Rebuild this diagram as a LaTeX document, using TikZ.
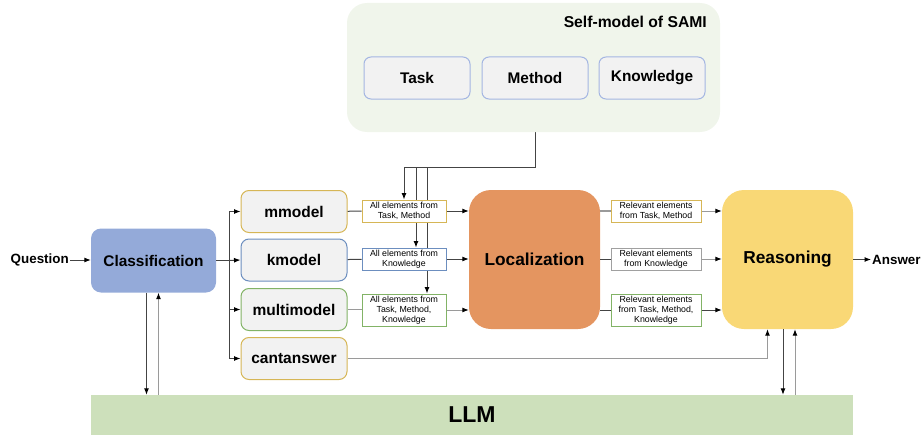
\documentclass[tikz,border=0pt]{standalone}
\usepackage{fontspec}
\setmainfont{Liberation Sans}
\usetikzlibrary{arrows.meta}
\usetikzlibrary{positioning}
\usetikzlibrary{backgrounds}

\definecolor{gold}{HTML}{D6B656}
\definecolor{blueline}{HTML}{6C8EBF}
\definecolor{greenline}{HTML}{82B366}
\definecolor{greyline}{HTML}{A0A0A0}
\definecolor{boxgray}{HTML}{F2F2F2}
\definecolor{partline}{HTML}{A4B6E2}
\definecolor{selffill}{HTML}{F0F5EB}
\definecolor{clsfill}{HTML}{94AAD9}
\definecolor{locfill}{HTML}{E49560}
\definecolor{reasfill}{HTML}{F9D876}
\definecolor{llmfill}{HTML}{CDE0BB}
\definecolor{wirecol}{HTML}{444444}
\definecolor{softcol}{HTML}{9A9A9A}

\begin{document}
\begin{tikzpicture}[
    x=1pt, y=-1pt,
    >={Latex[length=6.5pt,width=5pt,color=black]},
    model/.style={
        rounded corners=8pt, draw=#1, fill=boxgray, line width=1pt,
        minimum width=106pt, minimum height=42pt, inner sep=0pt,
        font=\bfseries\fontsize{15.5}{18}\selectfont
    },
    part/.style={
        rounded corners=7pt, draw=partline, fill=boxgray, line width=1pt,
        minimum width=106pt, minimum height=42pt, inner sep=0pt,
        font=\bfseries\fontsize{15.4}{18}\selectfont
    },
    items/.style={
        draw=#1, fill=white, line width=1pt,
        minimum width=84pt, minimum height=22pt, inner sep=0pt,
        align=center, font=\fontsize{8.8}{10}\selectfont
    },
    stage/.style={
        rounded corners=22pt, fill=#1,
        minimum width=131pt, minimum height=139pt, inner sep=0pt,
        font=\bfseries\fontsize{17.3}{20}\selectfont
    },
    label/.style={inner sep=1pt, font=\bfseries\fontsize{13.4}{16}\selectfont},
    wire/.style={draw=wirecol, line width=1pt},
    soft/.style={draw=softcol, line width=1.2pt},
    link/.style={->, line width=1pt}
]
\useasboundingbox (0,0) rectangle (923,436);

% self-model
\node[rounded corners=20pt, fill=selffill, minimum width=373pt, minimum height=129pt] (self) at (533.5,67.5) {};
\node[anchor=east, inner sep=0pt, font=\bfseries\fontsize{15.7}{18}\selectfont] (title) at (707,22) {Self-model of SAMI};
\node[part] (task) at (417,78) {Task};
\node[part] (method) at (535,78) {Method};
\node[part] (know) at (652,78) {Knowledge};

% input side
\node[rounded corners=10pt, fill=clsfill, minimum width=125pt, minimum height=64pt,
      font=\bfseries\fontsize{15.4}{18}\selectfont] (cls) at (153.5,260.5) {Classification};
\node[label, anchor=east] (question) at (70,260) {Question};

\node[model=gold] (mm) at (294,211.5) {mmodel};
\node[model=blueline] (km) at (294,260) {kmodel};
\node[model=greenline] (multi) at (294,309.5) {multimodel};
\node[model=gold] (cant) at (294,358.5) {cantanswer};

\node[items=gold] (all1) at (404,211) {All elements from\\Task, Method};
\node[items=blueline] (all2) at (404,259) {All elements from\\Knowledge};
\node[items=greenline, minimum height=32pt] (all3) at (404,310) {All elements from\\Task, Method,\\Knowledge};

\node[stage=locfill] (loc) at (534.5,259.5) {Localization};

\node[items=gold, minimum width=90pt] (rel1) at (656,211) {Relevant elements\\from Task, Method};
\node[items=greyline, minimum width=90pt] (rel2) at (656,259) {Relevant elements\\from Knowledge};
\node[items=greenline, minimum width=90pt, minimum height=32pt] (rel3) at (656,310) {Relevant elements\\from Task, Method,\\Knowledge};

\node[stage=reasfill] (reas) at (787.5,259.5) {Reasoning};
\node[label, anchor=west] (answer) at (871,259.5) {Answer};

\node[fill=llmfill, minimum width=762pt, minimum height=40pt, inner sep=0pt,
      font=\bfseries\fontsize{23}{26}\selectfont] (llm) at (472,415) {LLM};

% connectors
\coordinate (split) at (229,260.5);
\coordinate (tap) at (404,167);

\draw[wire,link] (question.east) -- (cls.west |- question.east);
\draw[wire] (cls.east) -- (split);
\draw[wire,link] (split) |- (mm.west);
\draw[wire,link] (split) -- (km.west);
\draw[wire,link] (split) |- (multi.west);
\draw[wire,link] (split) |- (cant.west);

\begin{pgfonlayer}{background}
\draw[wire,link] ([xshift=1.5pt]self.south) |- (tap) -- (all1.north);
\draw[wire,link] ([xshift=12pt]tap) -- ([xshift=12pt]all2.north);
\draw[wire,link] ([xshift=23pt]tap) -- ([xshift=23pt]all3.north);
\end{pgfonlayer}

\draw[wire] (mm) -- (all1);
\draw[wire] (km) -- (all2);
\draw[soft] (multi) -- (all3.west |- multi);
\draw[wire,link] (all1.east) -- (all1.east -| loc.west);
\draw[wire,link] (all2.east) -- (all2.east -| loc.west);
\draw[soft,link] (all3.east) -- (all3.east -| loc.west);

\draw[soft] (rel1.west -| loc.east) -- (rel1.west);
\draw[wire] (rel2.west -| loc.east) -- (rel2.west);
\draw[wire] (rel3.west -| loc.east) -- (rel3.west);
\draw[soft,link] (rel1.east) -- (rel1.east -| reas.west);
\draw[soft,link] (rel2.east) -- (rel2.east -| reas.west);
\draw[wire,link] (rel3.east) -- (rel3.east -| reas.west);

\draw[soft,link] (cant.east) -| ([xshift=-20pt]reas.south);
\draw[wire,link] (reas.east) -- (answer.west);

\draw[wire,link] ([xshift=-7pt]cls.south) -- ([xshift=-7pt]cls.south |- llm.north);
\draw[soft,link] ([xshift=5pt]cls.south |- llm.north) -- ([xshift=5pt]cls.south);
\draw[wire,link] ([xshift=-4.5pt]reas.south) -- ([xshift=-4.5pt]reas.south |- llm.north);
\draw[soft,link] ([xshift=7.5pt]reas.south |- llm.north) -- ([xshift=7.5pt]reas.south);
\end{tikzpicture}
\end{document}
